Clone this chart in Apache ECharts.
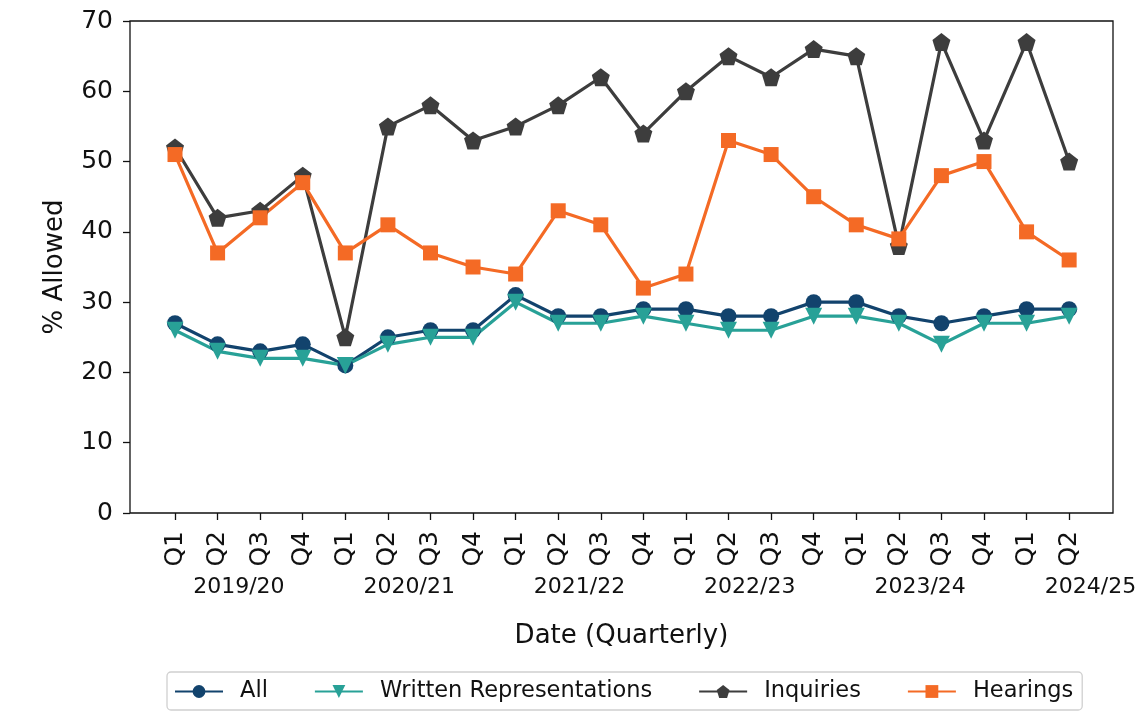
<!DOCTYPE html>
<html>
<head>
<meta charset="utf-8">
<script src="https://cdn.jsdelivr.net/npm/echarts@6/dist/echarts.min.js"></script>
<style>
html,body{margin:0;padding:0;background:#fff;}
#chart{width:1143px;height:719px;}
</style>
</head>
<body>
<div id="chart"></div>
<script>
const quarters = ['Q1','Q2','Q3','Q4','Q1','Q2','Q3','Q4','Q1','Q2','Q3','Q4','Q1','Q2','Q3','Q4','Q1','Q2','Q3','Q4','Q1','Q2'];
const years = ['2019/20','2020/21','2021/22','2022/23','2023/24','2024/25'];
const allVals = [27,24,23,24,21,25,26,26,31,28,28,29,29,28,28,30,30,28,27,28,29,29];
const writtenVals = [26,23,22,22,21,24,25,25,30,27,27,28,27,26,26,28,28,27,24,27,27,28];
const inquiryVals = [52,42,43,48,25,55,58,53,55,58,62,54,60,65,62,66,65,38,67,53,67,50];
const hearingVals = [51,37,42,47,37,41,37,35,34,43,41,32,34,53,51,45,41,39,48,50,40,36];
const yTicks = [0,10,20,30,40,50,60,70];

const FONT = 'DejaVu Sans';
const TXT = '#111';
const qIdx = quarters.map((q,i)=>i);
const yearPos = years.map((y,i)=>i*4+1.5);
const pentagon = 'path://M0,-1 L0.951,-0.309 L0.588,0.809 L-0.588,0.809 L-0.951,-0.309 Z';

function mk(name, vals, color, symbol, size, rot){
  return {
    name: name, type: 'line',
    data: vals.map((v,i)=>[i,v]),
    symbol: symbol, symbolSize: size, symbolRotate: rot||0,
    showAllSymbol: true,
    lineStyle: {color: color, width: 3.2},
    itemStyle: {color: color, borderColor: color, borderWidth: 0},
    emphasis: {disabled: true},
    animation: false
  };
}

const chart = echarts.init(document.getElementById('chart'));
chart.setOption({
  animation: false,
  backgroundColor: '#fff',
  textStyle: {fontFamily: FONT, color: TXT},
  grid: {left: 130, right: 30, top: 21, bottom: 206, show: true, borderColor: '#111', borderWidth: 1.3, backgroundColor: 'transparent'},
  legend: {
    left: 167, top: 672,
    data: ['All','Written Representations','Inquiries','Hearings'],
    itemWidth: 48, itemHeight: 16, itemGap: 46,
    textStyle: {fontFamily: FONT, fontSize: 22.5, color: TXT, padding: [0,0,0,12]},
    borderColor: '#d0d0d0', borderWidth: 1.3, borderRadius: 4,
    padding: [8, 9, 7, 7]
  },
  xAxis: [{
    type: 'value', min: -1.057, max: 22.03,
    axisLine: {show: false, onZero: false},
    splitLine: {show: false},
    axisTick: {show: true, customValues: qIdx, length: 7, lineStyle: {color: '#111', width: 1.3}},
    axisLabel: {customValues: qIdx, rotate: 90, margin: 18, fontFamily: FONT, fontSize: 25, color: TXT,
      formatter: v => quarters[Math.round(v)] || ''}
  },{
    type: 'value', min: -1.057, max: 22.03, position: 'bottom',
    axisLine: {show: false, onZero: false}, splitLine: {show: false},
    axisTick: {show: false, customValues: yearPos},
    axisLabel: {customValues: yearPos, margin: 63, fontFamily: FONT, fontSize: 22, color: TXT,
      formatter: v => years[Math.round((v-1.5)/4)] || ''},
    name: 'Date (Quarterly)', nameLocation: 'middle', nameGap: 110,
    nameTextStyle: {fontFamily: FONT, fontSize: 26, color: TXT}
  }],
  yAxis: {
    type: 'value', min: 0, max: 70, interval: 10,
    axisLine: {show: false, onZero: false}, splitLine: {show: false},
    axisTick: {show: true, length: 7, lineStyle: {color: '#111', width: 1.3}},
    axisLabel: {margin: 17, fontFamily: FONT, fontSize: 25, color: TXT,
      formatter: v => yTicks.indexOf(v) >= 0 ? String(v) : ''},
    name: '% Allowed', nameLocation: 'middle', nameGap: 62, nameRotate: 90,
    nameTextStyle: {fontFamily: FONT, fontSize: 26, color: TXT}
  },
  series: [
    mk('All', allVals, '#12436D', 'circle', 16),
    mk('Written Representations', writtenVals, '#28A197', 'triangle', 17, 180),
    mk('Inquiries', inquiryVals, '#3D3D3D', pentagon, 18),
    mk('Hearings', hearingVals, '#F46A25', 'rect', 15)
  ]
});
</script>
</body>
</html>
